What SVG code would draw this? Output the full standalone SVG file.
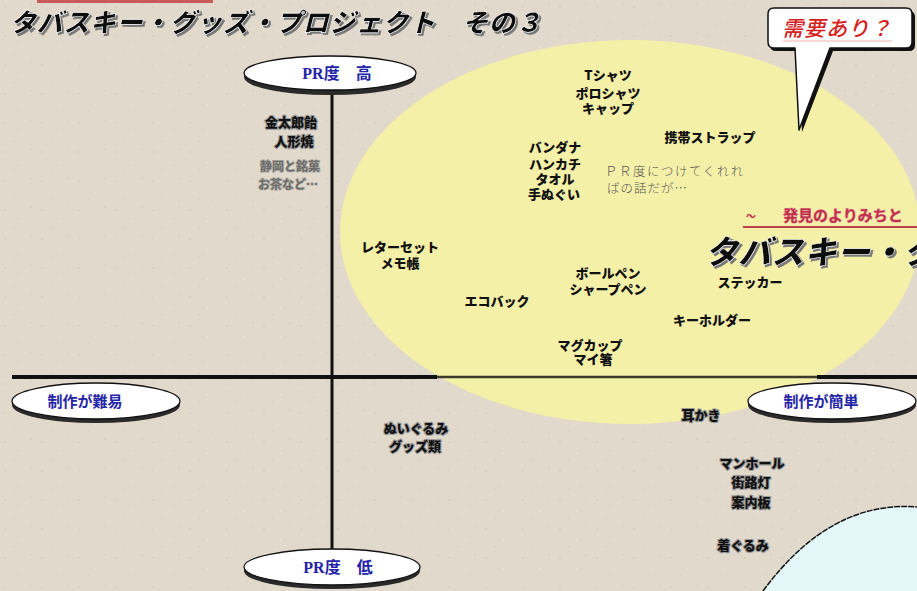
<svg xmlns="http://www.w3.org/2000/svg" width="917" height="591" viewBox="0 0 917 591">
<defs>
<style>
.it{font-family:"Noto Sans CJK JP","Noto Sans CJK SC",sans-serif;font-weight:900;font-size:13px;fill:#111;text-anchor:middle}
.bl{stroke:#9a9a9a;stroke-width:2.2px;paint-order:stroke;stroke-linejoin:round}
.gr{font-family:"Noto Sans CJK JP",sans-serif;font-weight:700;font-size:12px;fill:#6a6a6a;stroke:#b5b0a8;stroke-width:1.5px;paint-order:stroke;text-anchor:middle}
.lab{font-family:"Noto Sans CJK JP",sans-serif;font-weight:700;font-size:15px;fill:#2424a8;text-anchor:middle}
.labs{font-family:"Liberation Serif","Noto Sans CJK JP",serif;font-weight:700;font-size:16px;fill:#2424a8;text-anchor:middle}
.disk{fill:#fff;stroke:#111;stroke-width:1.3}
.dsh{fill:#2a2a2a}
.ax{stroke:#111;fill:none}
.deco{font-family:"Noto Sans CJK JP",sans-serif;font-weight:900;font-style:italic;fill:#111;stroke:#fff;stroke-width:0.6px}
</style>
<filter id="sh" x="-5%" y="-20%" width="110%" height="150%">
<feDropShadow dx="2" dy="2" stdDeviation="0.4" flood-color="#777" flood-opacity="1"/>
</filter>
<pattern id="sp" width="37" height="29" patternUnits="userSpaceOnUse">
<rect width="37" height="29" fill="#e1d9cb"/>
<circle cx="5" cy="7" r="0.8" fill="#cfc5b3"/>
<circle cx="22" cy="18" r="0.7" fill="#f0ebe2"/>
<circle cx="31" cy="4" r="0.6" fill="#c8bdab"/>
<circle cx="14" cy="25" r="0.7" fill="#d2c8b7"/>
</pattern>
</defs>
<rect width="917" height="591" fill="url(#sp)"/>

<!-- title -->
<g id="title">
<rect x="37" y="0" width="176" height="3" fill="#c85a5a"/>
<text class="deco" x="10" y="32" font-size="26" letter-spacing="0.6" filter="url(#sh)">タバスキー・グッズ・プロジェクト　その３</text>
</g>

<!-- yellow zone -->
<g id="zone-yellow">
<ellipse cx="630" cy="232" rx="290" ry="192" fill="#f5f0a8"/>
</g>

<!-- bottom right blue zone -->
<g id="zone-blue">
<path d="M763,591 Q830,500 917,507 L917,591 Z" fill="#e4f8fa"/>
<path d="M763,591 Q830,500 917,507" fill="none" stroke="#111" stroke-width="1.5" stroke-dasharray="6 1"/>
</g>

<!-- connectors / axes -->
<g id="axes">
<line class="ax" x1="332" y1="88" x2="332" y2="550" stroke-width="3"/>
<line class="ax" x1="12" y1="377" x2="437" y2="377" stroke-width="4"/>
<line x1="437" y1="377" x2="817" y2="377" stroke="#3c3a2a" stroke-width="2.5"/>
<line class="ax" x1="817" y1="377" x2="917" y2="377" stroke-width="4"/>
</g>

<!-- axis labels -->
<g id="pr-high">
<ellipse class="dsh" cx="330" cy="77" rx="86" ry="18"/>
<ellipse class="disk" cx="330" cy="73" rx="86" ry="17"/>
<text class="labs" x="337" y="79">PR度　高</text>
</g>
<g id="pr-low">
<ellipse class="dsh" cx="332" cy="571" rx="88" ry="18"/>
<ellipse class="disk" cx="332" cy="567" rx="88" ry="18"/>
<text class="labs" x="338" y="573">PR度　低</text>
</g>
<g id="hard">
<ellipse class="dsh" cx="96" cy="405" rx="84" ry="18"/>
<ellipse class="disk" cx="96" cy="401" rx="84" ry="18"/>
<text class="lab" x="85" y="407">制作が難易</text>
</g>
<g id="easy">
<ellipse class="dsh" cx="832" cy="405" rx="84" ry="18"/>
<ellipse class="disk" cx="832" cy="401" rx="84" ry="18"/>
<text class="lab" x="821" y="407">制作が簡単</text>
</g>

<!-- speech bubble -->
<g id="bubble">
<path d="M776,11 H909 Q915,11 915,17 V45 Q915,51 909,51 H833 L802,132 L798,51 H776 Q770,51 770,45 V17 Q770,11 776,11 Z" fill="#111"/>
<path d="M774,8 H906 Q912,8 912,14 V42 Q912,48 906,48 H830 L799,130 L795,48 H774 Q768,48 768,42 V14 Q768,8 774,8 Z" fill="#fff" stroke="#111" stroke-width="1.5" stroke-linejoin="round"/>
<text x="782" y="36" font-family="Noto Sans CJK JP,sans-serif" font-style="italic" font-weight="500" font-size="21" fill="#d42020" letter-spacing="1">需要あり？</text>
<line x1="783" y1="41" x2="892" y2="41" stroke="#f0b0b0" stroke-width="1"/>
</g>

<!-- items -->
<g id="kintaro"><text class="it bl" x="291" y="127">金太郎飴</text><text class="it bl" x="294" y="146">人形焼</text></g>
<g id="meibutsu"><text class="gr" x="290" y="171">静岡と銘菓</text><text class="gr" x="288" y="189">お茶など…</text></g>
<g id="shirts"><text class="it" x="608" y="80">Tシャツ</text><text class="it" x="608" y="98">ポロシャツ</text><text class="it" x="608" y="113">キャップ</text></g>
<g id="strap"><text class="it" x="710" y="142">携帯ストラップ</text></g>
<g id="bandana"><text class="it" x="555" y="152">バンダナ</text><text class="it" x="555" y="169">ハンカチ</text><text class="it" x="555" y="184">タオル</text><text class="it" x="554" y="199">手ぬぐい</text></g>
<g id="note"><text x="605" y="176" font-family="Noto Sans CJK JP,sans-serif" font-weight="300" font-size="12.5" fill="#555" letter-spacing="1.5">ＰＲ度につけてくれれ</text><text x="607" y="193" font-family="Noto Sans CJK JP,sans-serif" font-weight="300" font-size="12.5" fill="#555" letter-spacing="1">ばの話だが…</text></g>
<g id="letter"><text class="it" x="400" y="252">レターセット</text><text class="it" x="400" y="268">メモ帳</text></g>
<g id="pen"><text class="it" x="608" y="278">ボールペン</text><text class="it" x="608" y="294">シャープペン</text></g>
<g id="ecobag"><text class="it" x="497" y="306">エコバック</text></g>
<g id="mug"><text class="it" x="590" y="350">マグカップ</text><text class="it" x="593" y="364">マイ箸</text></g>
<g id="keyholder"><text class="it" x="712" y="325">キーホルダー</text></g>
<g id="sticker"><text class="it" x="750" y="287">ステッカー</text></g>
<g id="banner">
<line x1="743" y1="227" x2="917" y2="227" stroke="#c04050" stroke-width="2"/>
<text x="746" y="220" font-family="Noto Sans CJK JP,sans-serif" font-weight="700" font-size="10" fill="#c03048">〜</text>
<text x="783" y="221" font-family="Noto Sans CJK JP,sans-serif" font-weight="700" font-size="15" fill="#c03048" stroke="#e8a0a8" stroke-width="1" paint-order="stroke">発見のよりみちと</text>
<text class="deco" x="705" y="264" font-size="33" filter="url(#sh)">タバスキー・タ</text>
</g>
<g id="mimikaki"><text class="it bl" x="701" y="420">耳かき</text></g>
<g id="nuigurumi"><text class="it bl" x="416" y="433">ぬいぐるみ</text><text class="it bl" x="415" y="451" font-size="11">グッズ類</text></g>
<g id="manhole"><text class="it bl" x="752" y="468">マンホール</text><text class="it bl" x="751" y="487">街路灯</text><text class="it bl" x="751" y="507">案内板</text></g>
<g id="kigurumi"><text class="it bl" x="743" y="550">着ぐるみ</text></g>
</svg>
